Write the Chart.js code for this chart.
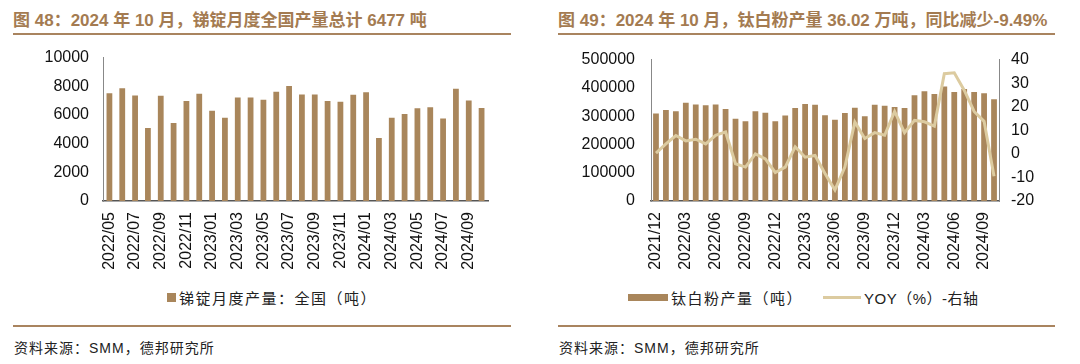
<!DOCTYPE html>
<html>
<head>
<meta charset="utf-8">
<script src="https://cdn.jsdelivr.net/npm/chart.js@4"></script>
<style>
  body { margin: 0; width: 1080px; height: 364px; background: #fff; position: relative; overflow: hidden;
         font-family: "Liberation Sans", "Noto Sans CJK SC", sans-serif; }
  .title { position: absolute; top: 6px; font-weight: bold; font-size: 17px; color: #a47b51; white-space: nowrap; }
  .rule { position: absolute; height: 2px; background: #a9845f; }
  .src { position: absolute; top: 337px; font-size: 14px; color: #222; white-space: nowrap; letter-spacing: 1px; }
  .legend { position: absolute; top: 287px; font-size: 15px; color: #222; white-space: nowrap; letter-spacing: 1.5px;
            display: flex; align-items: center; }
  .sw { display: inline-block; margin-right: 3px; }
  canvas { position: absolute; top: 34px; }
</style>
</head>
<body>
<div class="title" style="left:13px">图 48：2024 年 10 月，锑锭月度全国产量总计 6477 吨</div>
<div class="title" style="left:558px">图 49：2024 年 10 月，钛白粉产量 36.02 万吨，同比减少-9.49%</div>
<div class="rule" style="left:13px;width:498px;top:33px"></div>
<div class="rule" style="left:558px;width:497px;top:33px"></div>

<canvas id="sbChart" width="540" height="241" style="left:0"></canvas>
<canvas id="tiChart" width="540" height="241" style="left:540px"></canvas>

<div class="legend" style="left:167px"><span class="sw" style="width:9px;height:9px;background:#a9865b"></span>锑锭月度产量：全国（吨）</div>
<div class="legend" style="left:628px"><span class="sw" style="width:40px;height:7px;background:#a9865b"></span>钛白粉产量（吨）
  <span class="sw" style="width:38px;height:3px;background:#dccba0;margin-left:20px"></span><span style="letter-spacing:0.5px">YOY（%）-右轴</span></div>

<div class="rule" style="left:13px;width:498px;top:325px"></div>
<div class="rule" style="left:558px;width:497px;top:325px"></div>
<div class="src" style="left:14px">资料来源：SMM，德邦研究所</div>
<div class="src" style="left:559px">资料来源：SMM，德邦研究所</div>

<script>
const sbMonths = ['2022/05','2022/06','2022/07','2022/08','2022/09','2022/10','2022/11','2022/12',
  '2023/01','2023/02','2023/03','2023/04','2023/05','2023/06','2023/07','2023/08','2023/09','2023/10','2023/11','2023/12',
  '2024/01','2024/02','2024/03','2024/04','2024/05','2024/06','2024/07','2024/08','2024/09','2024/10'];
const sbOutput = [7520, 7870, 7360, 5090, 7340, 5440, 6970, 7480,
  6300, 5810, 7220, 7220, 7060, 7620, 8020, 7420, 7430, 6970, 6920, 7410,
  7590, 4400, 5810, 6060, 6460, 6530, 5760, 7830, 7010, 6477];

const tiMonths = ['2021/12',
  '2022/01','2022/02','2022/03','2022/04','2022/05','2022/06','2022/07','2022/08','2022/09','2022/10','2022/11','2022/12',
  '2023/01','2023/02','2023/03','2023/04','2023/05','2023/06','2023/07','2023/08','2023/09','2023/10','2023/11','2023/12',
  '2024/01','2024/02','2024/03','2024/04','2024/05','2024/06','2024/07','2024/08','2024/09','2024/10'];
const tiOutput = [309000,
  322000, 317000, 347000, 341000, 339000, 341000, 325000, 291000, 282000, 317000, 312000, 282000,
  302000, 329000, 343000, 340000, 303000, 287000, 311000, 330000, 300000, 340000, 337000, 332000,
  329000, 374000, 388000, 378000, 405000, 385000, 396000, 385000, 381000, 360200];
const tiYoy = [0.3,
  4.2, 7.8, 5.5, 6.2, 4.2, 7.9, 9.3, -4.2, -5.6, 0, -2.1, -7.9,
  -5.6, 3.0, -1.4, -0.7, -8.3, -15.3, -5.6, 13.5, 6.5, 9.0, 7.9, 18.0,
  9.0, 14.2, 13.6, 11.8, 34.0, 34.4, 27.0, 18.0, 13.8, -9.49];

const barColor = '#a9865b';
const lineColor = '#dccba0';
const tickFont = { family: 'Liberation Sans', size: 16 };
const plain = v => String(v);

function xAxis(every) {
  return {
    grid: { display: false, drawTicks: false },
    border: { color: '#555', width: 1.5 },
    ticks: {
      autoSkip: false, maxRotation: 90, minRotation: 90, padding: 11,
      color: '#111', font: tickFont,
      callback: function (v, i) { return i % every === 0 ? this.getLabelForValue(v) : ''; }
    },
    afterFit: s => { s.height = 74; }
  };
}

function yAxis(min, max, step, pad, width, pos) {
  return {
    position: pos, min: min, max: max,
    grid: { display: false, drawTicks: false },
    border: { color: '#888', width: 1 },
    ticks: { stepSize: step, autoSkip: false, padding: pad, color: '#111', font: tickFont, callback: plain },
    afterFit: s => { s.width = width; }
  };
}

new Chart(document.getElementById('sbChart').getContext('2d'), {
  type: 'bar',
  data: {
    labels: sbMonths,
    datasets: [{ label: '锑锭月度产量：全国（吨）', data: sbOutput, backgroundColor: barColor, barPercentage: 0.45, categoryPercentage: 1 }]
  },
  options: {
    responsive: false, animation: false,
    layout: { padding: { top: 0, right: 52, bottom: 0, left: 0 } },
    plugins: { legend: { display: false }, tooltip: { enabled: false } },
    scales: {
      x: xAxis(2),
      y: yAxis(0, 10000, 2000, 14, 103, 'left')
    }
  }
});

new Chart(document.getElementById('tiChart').getContext('2d'), {
  type: 'bar',
  data: {
    labels: tiMonths,
    datasets: [
      { type: 'line', label: 'YOY（%）-右轴', data: tiYoy, yAxisID: 'y2', borderColor: lineColor, borderWidth: 3,
        pointRadius: 0, tension: 0, order: 0 },
      { label: '钛白粉产量（吨）', data: tiOutput, backgroundColor: barColor, barPercentage: 0.58, categoryPercentage: 1, order: 1 }
    ]
  },
  options: {
    responsive: false, animation: false,
    layout: { padding: 0 },
    plugins: { legend: { display: false }, tooltip: { enabled: false } },
    scales: {
      x: xAxis(3),
      y: yAxis(0, 500000, 100000, 16, 111, 'left'),
      y2: yAxis(-20, 40, 10, 12, 81, 'right')
    }
  }
});
</script>
</body>
</html>
